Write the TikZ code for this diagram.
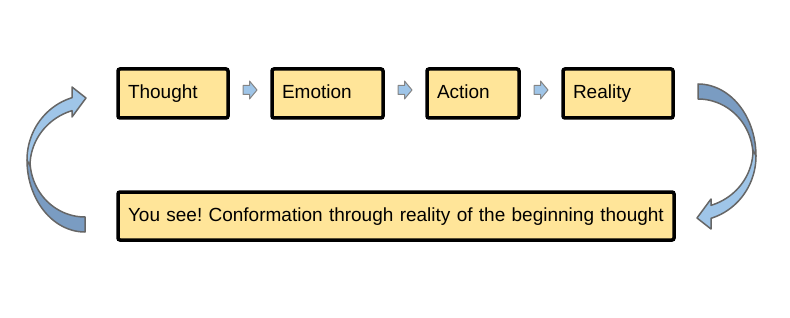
\documentclass[tikz,border=0pt]{standalone}
\usepackage{fontspec}
\setmainfont{Liberation Sans}
\usetikzlibrary{calc}
\definecolor{boxfill}{HTML}{FFE599}
\definecolor{lightblue}{HTML}{9FC5E8}
\definecolor{darkblue}{HTML}{7A9CC2}
\definecolor{arrowline}{HTML}{666666}
\tikzset{
  stagebox/.style={draw=black, line width=3.5pt, fill=boxfill, rounded corners=2pt,
    minimum height=49pt, inner xsep=10pt, inner ysep=0pt, align=left,
    text height=14pt, text depth=4pt, font=\fontsize{19}{23}\selectfont\frenchspacing},
  blockarrow/.style={fill=lightblue, draw=arrowline!80, line width=1pt, line join=round},
  bendfront/.style={fill=lightblue, draw=arrowline, line width=1.5pt, line join=round},
  bendback/.style={fill=darkblue, draw=arrowline, line width=1.5pt, line join=round}
}
\newcommand{\smallarrow}[1]{%
  \path[blockarrow] ($(#1)+(-7,4.5)$) -- ($(#1)+(-0.5,4.5)$) -- ($(#1)+(-0.5,9)$)
    -- ($(#1)+(7,0)$) -- ($(#1)+(-0.5,-9)$) -- ($(#1)+(-0.5,-4.5)$) -- ($(#1)+(-7,-4.5)$) -- cycle;}
\newcommand{\bentarrow}{%
  \path[bendback] (85,232) -- plot[domain=90:180, samples=40] ({85+58*cos(\x)},{160+72*sin(\x)})
    -- plot[domain=180:90, samples=40] ({85+55*cos(\x)},{160+57*sin(\x)}) -- cycle;
  \path[bendfront] (27,160) -- plot[domain=180:253.4, samples=40] ({90+63*cos(\x)},{160+65*sin(\x)})
    -- (72,87) -- (86,98) -- (72,117) -- (72,110.7)
    -- plot[domain=252.54:180, samples=40] ({90+60*cos(\x)},{166+58*sin(\x)}) -- cycle;}
\begin{document}
\begin{tikzpicture}[x=1pt, y=-1pt]
  \useasboundingbox (0,0) rectangle (790,318);
  \node[stagebox, minimum width=110pt, text width=90pt] (t) at (173,93.5) {Thought};
  \node[stagebox, minimum width=111pt, text width=91pt] (e) at (327.5,93.5) {Emotion};
  \node[stagebox, minimum width=92pt, text width=72pt] (a) at (473,93.5) {Action};
  \node[stagebox, minimum width=110pt, text width=90pt] (r) at (618,93.5) {Reality};
  \node[stagebox, minimum width=556pt, minimum height=48pt, text width=536pt] (b) at (396,216)
    {\mbox{You see! Conformation through reality of the beginning thought}};
  \coordinate (m1) at ($(t.east)!0.5!(e.west)+(0,-3.5)$);
  \coordinate (m2) at ($(e.east)!0.5!(a.west)+(0,-3.5)$);
  \coordinate (m3) at ($(a.east)!0.5!(r.west)+(0,-3.5)$);
  \smallarrow{m1}
  \smallarrow{m2}
  \smallarrow{m3}
  \bentarrow
  \begin{scope}[rotate around={180:(391.5,158)}]
    \bentarrow
  \end{scope}
\end{tikzpicture}
\end{document}
